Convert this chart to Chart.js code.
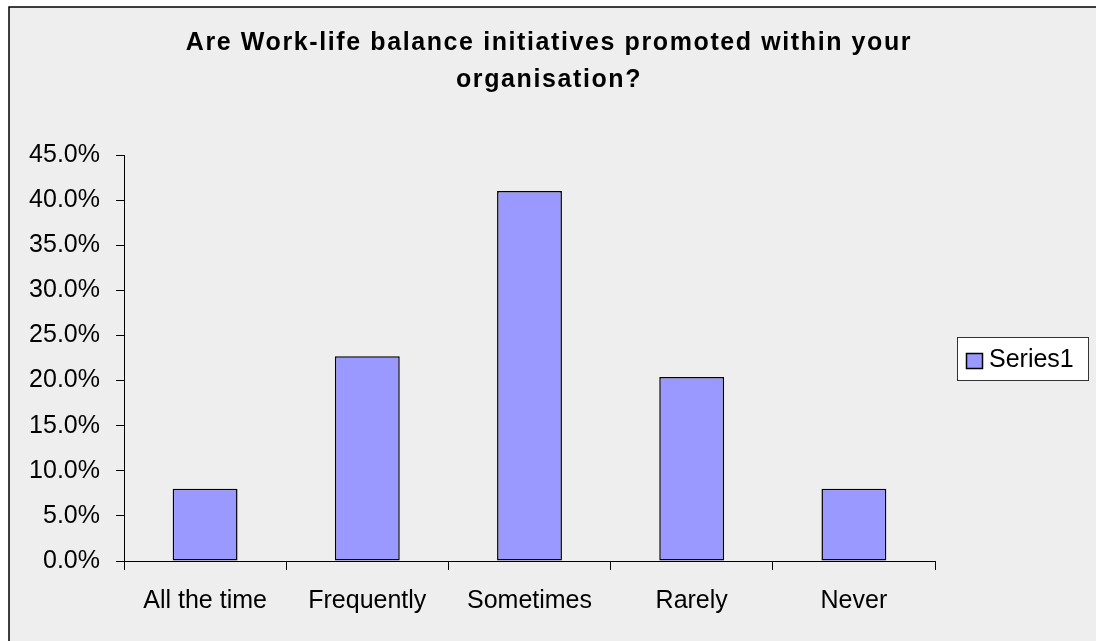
<!DOCTYPE html>
<html>
<head>
<meta charset="utf-8">
<script src="https://cdn.jsdelivr.net/npm/chart.js@4.4.0/dist/chart.umd.min.js"></script>
<style>
  html, body { margin: 0; padding: 0; background: #fff; }
  #wrap { width: 1096px; height: 641px; position: relative; }
</style>
</head>
<body>
<div id="wrap"><canvas id="chart" width="1096" height="641"></canvas></div>
<script>
// data
const categories = ['All the time', 'Frequently', 'Sometimes', 'Rarely', 'Never'];
const series1 = [0.080, 0.227, 0.410, 0.204, 0.080];
const titleLines = ['Are Work-life balance initiatives promoted within your', 'organisation?'];
const seriesName = 'Series1';

const barColor = '#9999ff';
const font = 'Liberation Sans, Arial, sans-serif';

// frame, title and legend drawn like the old Excel chart
const excelLook = {
  id: 'excelLook',
  beforeDraw(chart) {
    const ctx = chart.ctx;
    ctx.save();
    ctx.fillStyle = '#ffffff';
    ctx.fillRect(0, 0, chart.width, chart.height);
    ctx.fillStyle = '#eeeeee';
    ctx.fillRect(9, 7, chart.width, chart.height);
    // border runs off the right and bottom edge
    ctx.strokeStyle = '#000';
    ctx.lineWidth = 1.5;
    ctx.beginPath();
    ctx.moveTo(9, chart.height + 5);
    ctx.lineTo(9, 7);
    ctx.lineTo(chart.width + 5, 7);
    ctx.stroke();
    ctx.restore();
  },
  afterDraw(chart) {
    const ctx = chart.ctx;
    ctx.save();
    // title
    ctx.fillStyle = '#000';
    ctx.font = 'bold 25px ' + font;
    ctx.letterSpacing = '1.6px';
    ctx.textAlign = 'center';
    ctx.textBaseline = 'alphabetic';
    ctx.fillText(titleLines[0], 549, 50);
    ctx.fillText(titleLines[1], 549, 87);
    ctx.letterSpacing = '0px';

    // legend
    ctx.fillStyle = '#fff';
    ctx.fillRect(957, 337, 132, 44);
    ctx.strokeStyle = '#333';
    ctx.lineWidth = 1;
    ctx.strokeRect(957.5, 337.5, 131, 43);
    ctx.fillStyle = barColor;
    ctx.fillRect(966, 353, 17, 16);
    ctx.strokeStyle = '#000';
    ctx.lineWidth = 1.5;
    ctx.strokeRect(966.5, 353.5, 16, 15);
    ctx.fillStyle = '#000';
    ctx.font = '25px ' + font;
    ctx.textAlign = 'left';
    ctx.textBaseline = 'middle';
    ctx.fillText(chart.data.datasets[0].label, 989, 360);
    ctx.restore();
  }
};

new Chart(document.getElementById('chart'), {
  type: 'bar',
  data: {
    labels: categories,
    datasets: [{
      label: seriesName,
      data: series1,
      backgroundColor: barColor,
      borderColor: '#000',
      borderWidth: 1.5,
      borderSkipped: false,
      categoryPercentage: 1,
      barPercentage: 0.4
    }]
  },
  options: {
    responsive: false,
    animation: false,
    layout: { padding: { left: 0, right: 161, top: 155, bottom: 0 } },
    plugins: {
      legend: { display: false },
      title: { display: false },
      tooltip: { enabled: false }
    },
    scales: {
      x: {
        afterFit: s => { s.height = 80; },
        grid: { drawOnChartArea: false, color: '#000', tickLength: 9, offset: true },
        border: { color: '#000', width: 1 },
        ticks: { color: '#000', font: { family: font, size: 25 }, padding: 16, maxRotation: 0 }
      },
      y: {
        min: 0,
        max: 0.45,
        afterFit: s => { s.width = 124; },
        grid: { drawOnChartArea: false, color: '#000', tickLength: 8 },
        border: { color: '#000', width: 1 },
        ticks: {
          stepSize: 0.05,
          color: '#000',
          font: { family: font, size: 25 },
          padding: 16,
          callback: v => (v * 100).toFixed(1) + '%'
        }
      }
    }
  },
  plugins: [excelLook]
});
</script>
</body>
</html>
